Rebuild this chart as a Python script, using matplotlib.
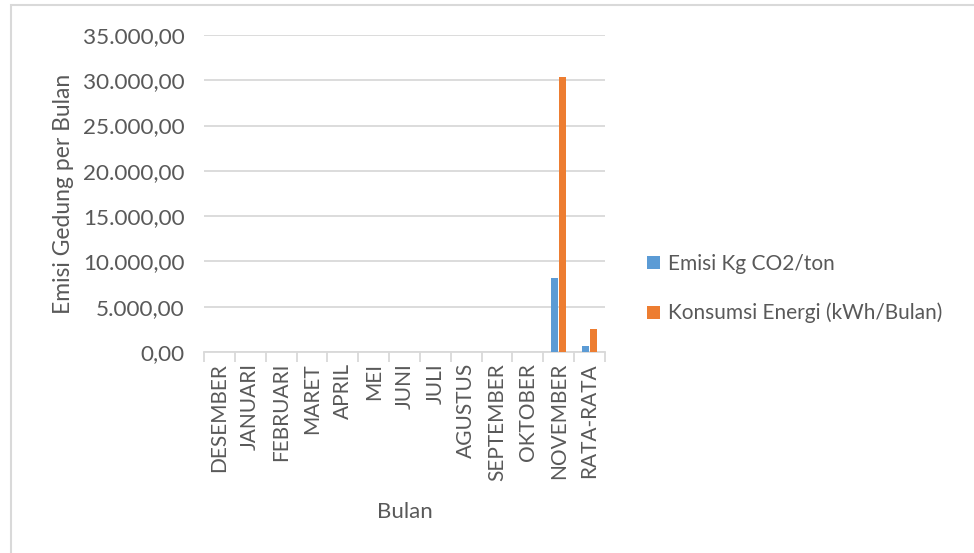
import matplotlib.pyplot as plt
import numpy as np
from matplotlib.patches import Rectangle

# monthly building emissions vs. energy consumption
bulan = ["DESEMBER", "JANUARI", "FEBRUARI", "MARET", "APRIL", "MEI", "JUNI",
         "JULI", "AGUSTUS", "SEPTEMBER", "OKTOBER", "NOVEMBER", "RATA-RATA"]
emisi = [0, 0, 0, 0, 0, 0, 0, 0, 0, 0, 0, 8150, 679]
energi = [0, 0, 0, 0, 0, 0, 0, 0, 0, 0, 0, 30400, 2533]
y_ticks = [0, 5000, 10000, 15000, 20000, 25000, 30000, 35000]

C_BLUE = "#5B9BD5"
C_ORANGE = "#ED7D31"
C_TEXT = "#595959"
C_GRID = "#D9D9D9"

plt.rcParams["font.family"] = ["Lato", "DejaVu Sans"]

fig = plt.figure(figsize=(9.74, 5.53), dpi=100)
fig.patch.set_facecolor("white")

# chart-area border (runs off the right and bottom edge)
fig.patches.append(Rectangle((11 / 974, -0.05), 1.2, 1 - 5 / 553 + 0.05,
                             transform=fig.transFigure, fill=False,
                             edgecolor=C_GRID, linewidth=1.5))

ax = fig.add_axes([204 / 974, 1 - 352 / 553, 401 / 974, 317 / 553])

x = np.arange(len(bulan))
w = 0.23
ax.bar(x - 0.125, emisi, width=w, color=C_BLUE, label="Emisi Kg CO2/ton", zorder=3)
ax.bar(x + 0.125, energi, width=w, color=C_ORANGE,
       label="Konsumsi Energi (kWh/Bulan)", zorder=3)

ax.set_xlim(-0.5, len(bulan) - 0.5)
ax.set_ylim(0, 35000)
ax.set_yticks(y_ticks)
ax.set_yticklabels([f"{v:,.2f}".replace(",", "X").replace(".", ",").replace("X", ".")
                    for v in y_ticks])
ax.yaxis.grid(True, color=C_GRID, linewidth=1.3, zorder=0)
ax.tick_params(axis="y", length=0, pad=14, labelsize=16.2, labelcolor=C_TEXT)

ax.set_xticks(x)
ax.set_xticklabels(bulan, rotation=90, fontsize=15, color=C_TEXT)
ax.set_xticks(np.arange(len(bulan) + 1) - 0.5, minor=True)
ax.tick_params(axis="x", which="major", length=0, pad=8)
ax.tick_params(axis="x", which="minor", length=7, color=C_GRID, width=1.3)

for side in ("top", "right", "left"):
    ax.spines[side].set_visible(False)
ax.spines["bottom"].set_color(C_GRID)
ax.spines["bottom"].set_linewidth(1.3)

ax.set_xlabel("Bulan", fontsize=16, color=C_TEXT, labelpad=15)
ax.set_ylabel("Emisi Gedung per Bulan", fontsize=16.5, color=C_TEXT, labelpad=6)

leg = ax.legend(loc="center left", bbox_to_anchor=(1.058, 0.2), frameon=False,
                fontsize=15, labelcolor=C_TEXT, handlelength=0.6, handleheight=0.6,
                handletextpad=0.4, labelspacing=1.4)

fig.savefig("out.png", dpi=100, facecolor="white")
